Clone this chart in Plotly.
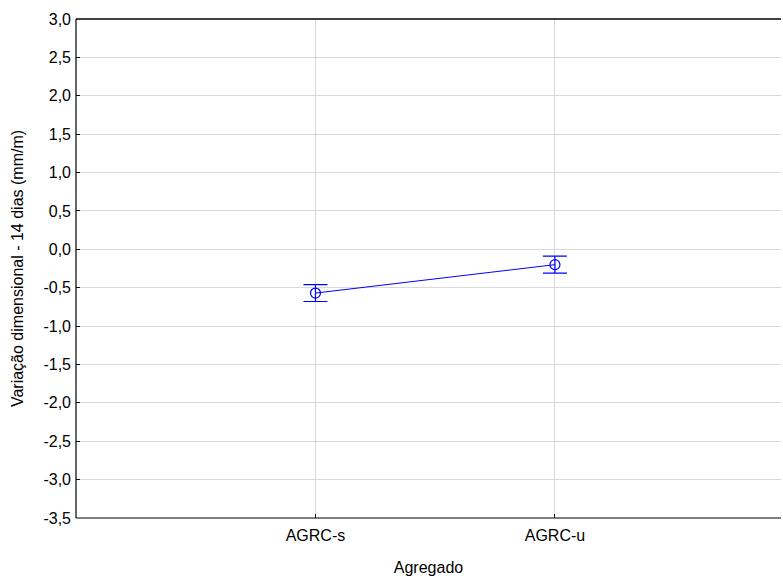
import plotly.graph_objects as go

# Means and confidence half-widths of the 14-day dimensional change
categories = ["AGRC-s", "AGRC-u"]
means = [-0.57, -0.20]
errors = [0.11, 0.11]

y_ticks = [3.0, 2.5, 2.0, 1.5, 1.0, 0.5, 0.0, -0.5, -1.0, -1.5, -2.0, -2.5, -3.0, -3.5]
y_labels = [f"{v:.1f}".replace(".", ",") for v in y_ticks]

x_pos = list(range(1, len(categories) + 1))

fig = go.Figure()
fig.add_trace(go.Scatter(
    x=x_pos,
    y=means,
    mode="lines+markers",
    line=dict(color="#0000ff", width=1),
    marker=dict(symbol="circle-open", size=10, color="#0000ff", line=dict(width=1.2)),
    error_y=dict(type="data", array=errors, visible=True, color="#0000ff",
                 thickness=1.2, width=12),
    showlegend=False,
))

font_family = "Liberation Sans, Arial, sans-serif"

# open frame: top, bottom and left edges of the plotting area
frame = [
    dict(type="line", xref="paper", yref="paper", x0=0, x1=1, y0=1, y1=1,
         line=dict(color="black", width=1.5)),
    dict(type="line", xref="paper", yref="paper", x0=0, x1=1, y0=0, y1=0,
         line=dict(color="black", width=1.2)),
    dict(type="line", xref="paper", yref="paper", x0=0, x1=0, y0=0, y1=1,
         line=dict(color="black", width=1.2)),
]

fig.update_layout(
    width=783,
    height=579,
    margin=dict(l=76, r=2, t=19, b=61, autoexpand=False),
    paper_bgcolor="white",
    plot_bgcolor="white",
    dragmode=False,
    hovermode=False,
    font=dict(family=font_family, size=16, color="black"),
    xaxis=dict(
        range=[0, 2.944],
        tickmode="array",
        tickvals=x_pos,
        ticktext=categories,
        showgrid=True,
        gridcolor="#d9d9d9",
        gridwidth=1,
        zeroline=False,
        showline=False,
        ticks="inside",
        ticklen=4,
        tickcolor="black",
        ticklabelstandoff=6,
        automargin=False,
        fixedrange=True,
        title=dict(text="Agregado", standoff=18, font=dict(size=16)),
        tickfont=dict(size=16),
    ),
    yaxis=dict(
        range=[-3.5, 3.0],
        tickmode="array",
        tickvals=y_ticks,
        ticktext=y_labels,
        showgrid=True,
        gridcolor="#d9d9d9",
        gridwidth=1,
        zeroline=False,
        showline=False,
        ticks="inside",
        ticklen=4,
        tickcolor="black",
        ticklabelstandoff=4,
        automargin=False,
        fixedrange=True,
        title=dict(text="Variação dimensional - 14 dias (mm/m)", standoff=15, font=dict(size=16)),
        tickfont=dict(size=16),
    ),
    shapes=frame,
)

fig.write_html("out.html", config={"staticPlot": True, "displayModeBar": False})
